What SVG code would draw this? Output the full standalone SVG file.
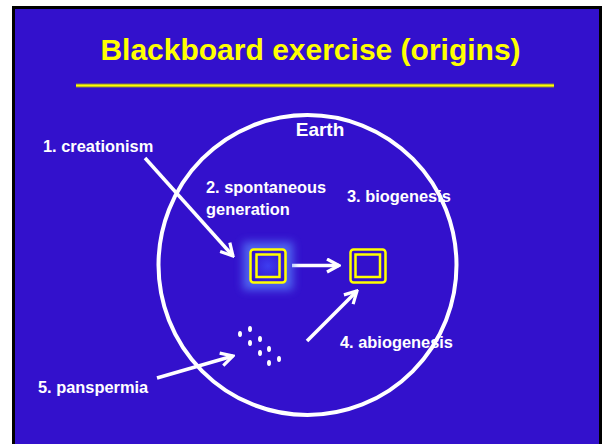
<svg xmlns="http://www.w3.org/2000/svg" width="602" height="444" viewBox="0 0 602 444">
<style>
.lbl{font-family:"Liberation Sans",Arial,sans-serif;font-weight:bold;fill:#ffffff;font-size:16.4px}
.title{font-family:"Liberation Sans",Arial,sans-serif;font-weight:bold;fill:#ffff00;font-size:30px}
.conn{stroke:#ffffff;stroke-width:3.5;fill:none}
.box{fill:none;stroke:#ffff00;stroke-width:2.5}
.dot{fill:#ffffff}
</style>
<defs>
<marker id="arr" viewBox="0 0 16 16" refX="14" refY="8" markerWidth="16" markerHeight="16" markerUnits="userSpaceOnUse" orient="auto">
<path d="M2,1.5 L14,8 L2,14.5" stroke="#ffffff" stroke-width="3.2" fill="none"/>
</marker>
<filter id="glow" x="-50%" y="-50%" width="200%" height="200%">
<feGaussianBlur stdDeviation="4"/>
</filter>
<radialGradient id="inner" cx="0.5" cy="0.5" r="0.6">
<stop offset="0" stop-color="#3d3df0"/>
<stop offset="1" stop-color="#3311cc"/>
</radialGradient>
</defs>
<rect x="0" y="0" width="602" height="444" fill="#ffffff"/>
<rect x="13.5" y="7.5" width="587" height="450" fill="#3311cc" stroke="#000000" stroke-width="3"/>
<g id="title">
<text class="title" x="310.5" y="60" text-anchor="middle">Blackboard exercise (origins)</text>
<line x1="76" y1="85.5" x2="554" y2="85.5" stroke="#8a8640" stroke-width="4"/>
<line x1="76" y1="85.5" x2="554" y2="85.5" stroke="#ffff00" stroke-width="2"/>
</g>
<g id="earth">
<ellipse cx="307.5" cy="265" rx="149" ry="150" fill="none" stroke="#ffffff" stroke-width="4"/>
<text class="lbl" x="320" y="136" text-anchor="middle" style="font-size:19px">Earth</text>
</g>
<g id="connectors">
<line class="conn" x1="145" y1="158" x2="233" y2="256" marker-end="url(#arr)"/>
<line class="conn" x1="292" y1="265.5" x2="339" y2="265.5" marker-end="url(#arr)"/>
<line class="conn" x1="307" y1="341" x2="357" y2="291" marker-end="url(#arr)"/>
<line class="conn" x1="157" y1="378" x2="233" y2="356" marker-end="url(#arr)"/>
</g>
<g id="creationism">
<text class="lbl" x="43" y="152">1. creationism</text>
</g>
<g id="spontaneous-generation">
<text class="lbl" x="206" y="193">2. spontaneous</text>
<text class="lbl" x="206" y="215">generation</text>
<rect x="243" y="242" width="50" height="48" fill="#5a86ff" opacity="0.7" filter="url(#glow)"/>
<rect x="250.5" y="249.5" width="35" height="33" rx="3" fill="url(#inner)" class="box" style="fill:url(#inner)"/>
<rect x="256.5" y="254.5" width="23" height="22.5" class="box"/>
</g>
<g id="biogenesis">
<text class="lbl" x="347" y="202">3. biogenesis</text>
<rect x="350.5" y="249.5" width="35" height="33" rx="3" class="box"/>
<rect x="355.5" y="254.5" width="24.5" height="22.5" class="box"/>
</g>
<g id="abiogenesis">
<text class="lbl" x="340" y="348">4. abiogenesis</text>
</g>
<g id="panspermia">
<text class="lbl" x="38" y="393">5. panspermia</text>
<g id="dots">
<ellipse class="dot" cx="240" cy="334" rx="2" ry="3"/>
<ellipse class="dot" cx="250" cy="329" rx="2" ry="3"/>
<ellipse class="dot" cx="250" cy="343" rx="2" ry="3"/>
<ellipse class="dot" cx="260" cy="339" rx="2" ry="3"/>
<ellipse class="dot" cx="260" cy="353" rx="2" ry="3"/>
<ellipse class="dot" cx="269" cy="349" rx="2" ry="3"/>
<ellipse class="dot" cx="269" cy="363" rx="2" ry="3"/>
<ellipse class="dot" cx="279" cy="359" rx="2" ry="3"/>
</g>
</g>
</svg>
